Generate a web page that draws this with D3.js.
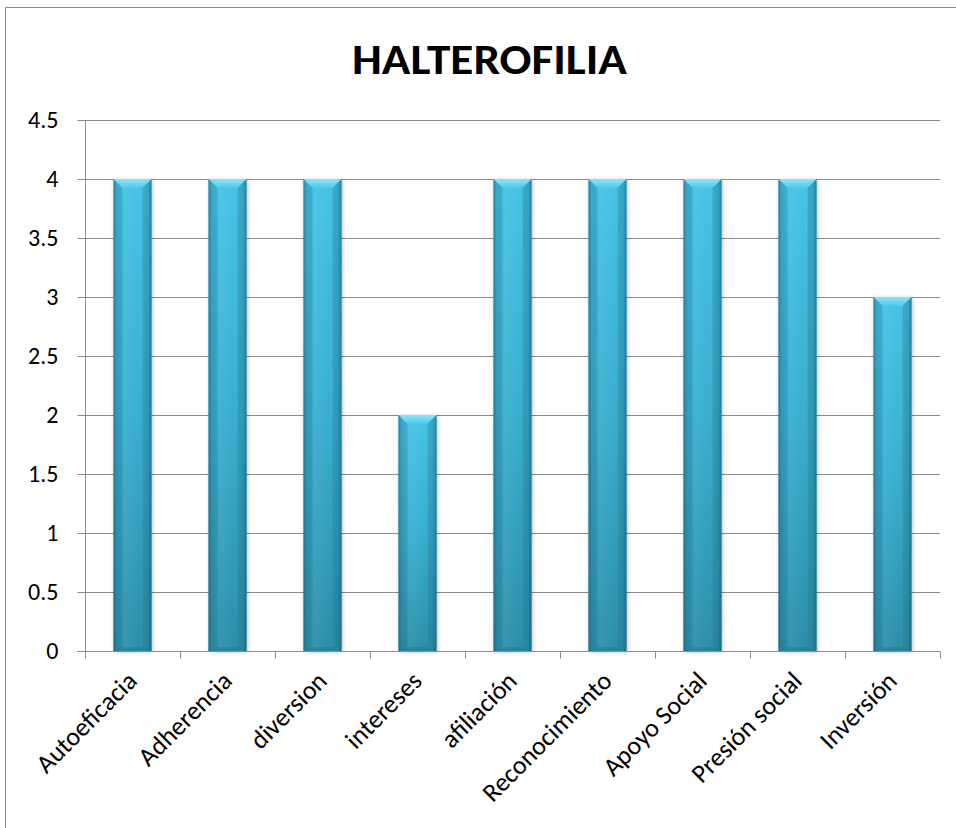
<!DOCTYPE html>
<html>
<head>
<meta charset="utf-8">
<script src="https://cdn.jsdelivr.net/npm/d3@7"></script>
<style>
  html, body { margin: 0; padding: 0; background: #fff; }
  svg { display: block; }
</style>
</head>
<body>
<svg id="chart" width="956" height="828"></svg>
<script>
const categories = ["Autoeficacia", "Adherencia", "diversion", "intereses", "afiliación",
                    "Reconocimiento", "Apoyo Social", "Presión social", "Inversión"];
const values = [4, 4, 4, 2, 4, 4, 4, 4, 3];
const yTicks = [0, 0.5, 1, 1.5, 2, 2.5, 3, 3.5, 4, 4.5];
const chartTitle = "HALTEROFILIA";

const svg = d3.select("#chart");
const font = "Carlito, Lato, 'Open Sans', sans-serif";

// outer chart frame
svg.append("rect")
  .attr("x", 5.5).attr("y", 7.5).attr("width", 1000).attr("height", 1000)
  .attr("fill", "#fff").attr("stroke", "#8c8c8c").attr("stroke-width", 1);

const plotLeft = 85, plotRight = 940, plotTop = 120, plotBottom = 651;

const x = d3.scaleBand().domain(categories).range([plotLeft, plotRight]).paddingInner(0.6).paddingOuter(0.3);
const xb = d3.scaleBand().domain(categories).range([plotLeft, plotRight]);
const y = d3.scaleLinear().domain([0, 4.5]).range([plotBottom, plotTop]);

// gradients for the bars
const defs = svg.append("defs");
const gv = defs.append("linearGradient").attr("id", "barV").attr("x1", 0).attr("y1", 0).attr("x2", 0).attr("y2", 1);
gv.append("stop").attr("offset", "0%").attr("stop-color", "#45c3e6");
gv.append("stop").attr("offset", "50%").attr("stop-color", "#38aed0");
gv.append("stop").attr("offset", "100%").attr("stop-color", "#2b8ea9");
const gh = defs.append("linearGradient").attr("id", "barH").attr("x1", 0).attr("y1", 0).attr("x2", 1).attr("y2", 0);
gh.append("stop").attr("offset", "0%").attr("stop-color", "#0a4a5e").attr("stop-opacity", 0.45);
gh.append("stop").attr("offset", "8%").attr("stop-color", "#0a4a5e").attr("stop-opacity", 0.08);
gh.append("stop").attr("offset", "30%").attr("stop-color", "#ffffff").attr("stop-opacity", 0.06);
gh.append("stop").attr("offset", "70%").attr("stop-color", "#ffffff").attr("stop-opacity", 0.0);
gh.append("stop").attr("offset", "92%").attr("stop-color", "#0a4a5e").attr("stop-opacity", 0.1);
gh.append("stop").attr("offset", "100%").attr("stop-color", "#0a4a5e").attr("stop-opacity", 0.5);
const gt = defs.append("linearGradient").attr("id", "barTop").attr("x1", 0).attr("y1", 0).attr("x2", 0).attr("y2", 1);
gt.append("stop").attr("offset", "0%").attr("stop-color", "#8fe6f7");
gt.append("stop").attr("offset", "100%").attr("stop-color", "#4cc8ea");
const shadow = defs.append("filter").attr("id", "shadow").attr("x", "-20%").attr("y", "-5%").attr("width", "140%").attr("height", "110%");
shadow.append("feGaussianBlur").attr("in", "SourceAlpha").attr("stdDeviation", 2);
shadow.append("feOffset").attr("dx", 1).attr("dy", 1).attr("result", "b");
shadow.append("feComponentTransfer").append("feFuncA").attr("type", "linear").attr("slope", 0.25);
const fm = shadow.append("feMerge");
fm.append("feMergeNode");
fm.append("feMergeNode").attr("in", "SourceGraphic");

// gridlines
svg.append("g").selectAll("line").data(yTicks.filter(d => d > 0)).join("line")
  .attr("x1", plotLeft).attr("x2", plotRight)
  .attr("y1", d => Math.round(y(d)) + 0.5).attr("y2", d => Math.round(y(d)) + 0.5)
  .attr("stroke", "#8c8c8c").attr("stroke-width", 1);

// bars
const bars = svg.append("g").selectAll("g").data(categories).join("g")
  .attr("filter", "url(#shadow)");
const bw = x.bandwidth();
bars.each(function(c, i) {
  const g = d3.select(this);
  const x0 = x(c), y0 = y(values[i]), h = y(0) - y0;
  g.append("rect").attr("x", x0).attr("y", y0).attr("width", bw).attr("height", h).attr("fill", "url(#barV)");
  g.append("rect").attr("x", x0).attr("y", y0).attr("width", bw).attr("height", h).attr("fill", "url(#barH)");
  const b = 9;
  g.append("path")
    .attr("d", `M${x0},${y0}L${x0 + bw},${y0}L${x0 + bw - b},${y0 + b}L${x0 + b},${y0 + b}Z`)
    .attr("fill", "url(#barTop)");
  g.append("path")
    .attr("d", `M${x0},${y0}L${x0 + b},${y0 + b}L${x0 + b},${y0 + h - 4}L${x0},${y0 + h}Z`)
    .attr("fill", "#1e6f86").attr("opacity", 0.25);
  g.append("path")
    .attr("d", `M${x0 + bw},${y0}L${x0 + bw - b},${y0 + b}L${x0 + bw - b},${y0 + h - 4}L${x0 + bw},${y0 + h}Z`)
    .attr("fill", "#1e6f86").attr("opacity", 0.3);
  g.append("path")
    .attr("d", `M${x0},${y0 + h}L${x0 + b},${y0 + h - 4}L${x0 + bw - b},${y0 + h - 4}L${x0 + bw},${y0 + h}Z`)
    .attr("fill", "#1e6f86").attr("opacity", 0.35);
});

// y axis
const yAxis = svg.append("g").attr("transform", `translate(${plotLeft + 0.5},0)`)
  .call(d3.axisLeft(y).tickValues(yTicks).tickSize(8).tickPadding(19).tickFormat(d => String(d)));
yAxis.select(".domain").attr("stroke", "#8c8c8c").attr("d", `M0,${y(0)}V${y(4.5)}`);
yAxis.selectAll(".tick line").attr("stroke", "#8c8c8c");
yAxis.selectAll(".tick text").attr("font-family", font).attr("font-size", 24).attr("fill", "#000");
yAxis.selectAll(".tick").attr("transform", d => `translate(0,${Math.round(y(d)) + 0.5})`);

// x axis
const xAxisG = svg.append("g").attr("transform", `translate(0,${Math.round(y(0)) + 0.5})`);
xAxisG.append("line").attr("x1", plotLeft - 8).attr("x2", plotRight).attr("stroke", "#8c8c8c");
const bounds = categories.map(c => xb(c)).concat([plotRight]);
xAxisG.selectAll("line.t").data(bounds).join("line").attr("class", "t")
  .attr("x1", d => Math.round(d) + 0.5).attr("x2", d => Math.round(d) + 0.5)
  .attr("y1", 0).attr("y2", 7).attr("stroke", "#8c8c8c");
xAxisG.selectAll("text").data(categories).join("text")
  .attr("transform", c => `translate(${xb(c) + xb.bandwidth() / 2 + 6},31) rotate(-45)`)
  .attr("text-anchor", "end")
  .attr("font-family", font).attr("font-size", 26).attr("fill", "#000")
  .text(c => c);

// title
svg.append("text").attr("x", 489.5).attr("y", 74).attr("text-anchor", "middle")
  .attr("font-family", font).attr("font-weight", "bold").attr("font-size", 43).attr("fill", "#000")
  .attr("textLength", 275).attr("lengthAdjust", "spacingAndGlyphs")
  .text(chartTitle);
</script>
</body>
</html>
